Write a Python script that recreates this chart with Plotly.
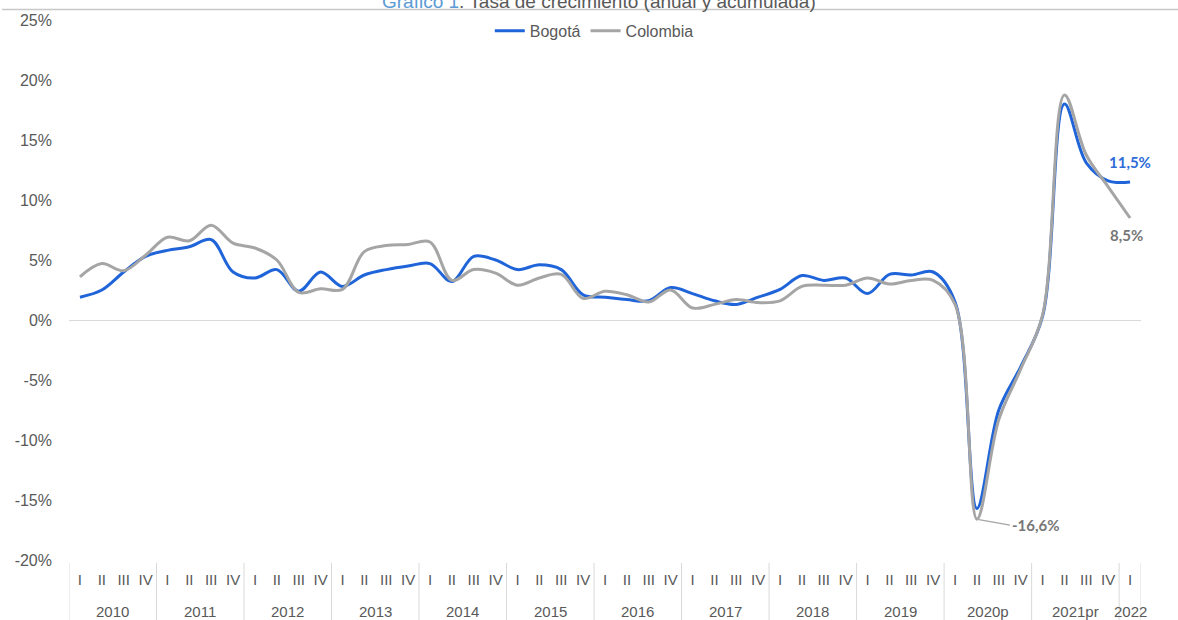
import plotly.graph_objects as go

years = ["2010"] * 4 + ["2011"] * 4 + ["2012"] * 4 + ["2013"] * 4 + ["2014"] * 4 + \
        ["2015"] * 4 + ["2016"] * 4 + ["2017"] * 4 + ["2018"] * 4 + ["2019"] * 4 + \
        ["2020p"] * 4 + ["2021pr"] * 4 + ["2022"]
quarters = ["I", "II", "III", "IV"] * 12 + ["I"]

bogota = [1.9, 2.5, 4.0, 5.3, 5.8, 6.1, 6.7, 4.0, 3.5, 4.2, 2.4, 4.0,
          2.8, 3.75, 4.2, 4.5, 4.7, 3.2, 5.3, 5.0, 4.2, 4.6, 4.2, 2.1,
          1.9, 1.7, 1.6, 2.7, 2.2, 1.6, 1.3, 1.9, 2.55, 3.7, 3.3, 3.5,
          2.2, 3.8, 3.75, 4.0, 1.5, -15.7, -7.5, -3.9, 0.3, 18.0, 13.1, 11.6,
          11.5]
colombia = [3.6, 4.7, 4.1, 5.4, 6.9, 6.6, 7.9, 6.4, 6.0, 5.0, 2.3, 2.6,
            2.55, 5.7, 6.2, 6.3, 6.5, 3.3, 4.2, 3.9, 2.9, 3.5, 3.8, 1.8,
            2.4, 2.1, 1.5, 2.5, 1.0, 1.3, 1.7, 1.45, 1.6, 2.8, 2.9, 2.9,
            3.5, 3.0, 3.3, 3.3, 1.3, -16.6, -8.3, -4.1, 0.4, 18.75, 13.75, 11.1,
            8.5]

y_tickvals = [-20, -15, -10, -5, 0, 5, 10, 15, 20, 25]
y_ticktext = ["-20%", "-15%", "-10%", "-5%", "0%", "5%", "10%", "15%", "20%", "25%"]

title_main = "Gráfico 1"
title_rest = ". Tasa de crecimiento (anual y acumulada)"
lbl_bog_last = "11,5%"
lbl_col_last = "8,5%"
lbl_col_min = "-16,6%"

BLUE = "#1F64D8"
GRAY = "#A5A5A5"
TXT = "#595959"
DIV = "#D9D9D9"
FONT = "Liberation Sans, Arial, sans-serif"

n = len(bogota)
idx = list(range(n))

fig = go.Figure()
fig.add_trace(go.Scatter(x=idx, y=bogota, name="Bogotá", mode="lines",
                         line=dict(color=BLUE, width=3, shape="spline", smoothing=1)))
fig.add_trace(go.Scatter(x=idx, y=colombia, name="Colombia", mode="lines",
                         line=dict(color=GRAY, width=3, shape="spline", smoothing=1)))

i_min = colombia.index(min(colombia))

fig.update_layout(
    width=1178, height=620,
    margin=dict(l=69, r=37, t=20, b=60),
    paper_bgcolor="white", plot_bgcolor="white",
    font=dict(family=FONT, size=16, color=TXT),
    showlegend=True,
    legend=dict(orientation="h", x=0.49, xanchor="center", y=0.98, yanchor="middle",
                font=dict(size=16, color=TXT), bgcolor="rgba(0,0,0,0)",
                itemwidth=30, tracegroupgap=0),
    xaxis=dict(range=[-0.5, n - 0.5], tickvals=idx, ticktext=quarters,
               showgrid=False, showline=False, zeroline=False,
               ticks="", tickangle=0, automargin=False, ticklabelstandoff=9,
               tickfont=dict(size=15, color=TXT)),
    yaxis=dict(range=[-20, 25], tickvals=y_tickvals, ticktext=y_ticktext,
               showgrid=False, showline=False, zeroline=True, automargin=False,
               zerolinecolor=DIV, zerolinewidth=1,
               tickfont=dict(size=16, color=TXT), ticklabelstandoff=16),
)

# year group labels and dividers below the axis
groups = []
for i, yv in enumerate(years):
    if not groups or groups[-1][0] != yv:
        groups.append([yv, i, i])
    else:
        groups[-1][2] = i
div_y1 = -60 / 540
for name, a, b in groups:
    fig.add_annotation(x=(a + b) / 2, y=-51 / 540, xref="x", yref="paper",
                       text=name, showarrow=False, xanchor="center", yanchor="middle",
                       font=dict(family=FONT, size=15, color=TXT))
    fig.add_shape(type="line", xref="x", yref="paper", x0=a - 0.5, x1=a - 0.5,
                  y0=-3 / 540, y1=div_y1, line=dict(color=DIV, width=1))
fig.add_shape(type="line", xref="x", yref="paper", x0=n - 0.5, x1=n - 0.5,
              y0=-3 / 540, y1=div_y1, line=dict(color=DIV, width=1))

# top frame line
fig.add_shape(type="line", xref="paper", yref="paper",
              x0=-67 / 1072, x1=1109 / 1072, y0=1 + 10.5 / 540, y1=1 + 10.5 / 540,
              line=dict(color="#C8C8C8", width=1.5))

# title (partially cropped at the top edge, as in the reference)
fig.add_annotation(xref="paper", yref="paper", x=0.494, y=1 + 18 / 540,
                   xanchor="center", yanchor="middle", showarrow=False,
                   text=f"<span style='color:#5B9BD5'>{title_main}</span>{title_rest}",
                   font=dict(family=FONT, size=19, color=TXT))

# data labels
fig.add_annotation(x=n - 1, y=bogota[-1], xref="x", yref="y", text=f"<b>{lbl_bog_last}</b>",
                   showarrow=False, yshift=20, xanchor="center", yanchor="middle",
                   font=dict(family="Lato, Open Sans, sans-serif", size=15, color="#2E6CD8"))
fig.add_annotation(x=n - 1, y=colombia[-1], xref="x", yref="y", text=f"<b>{lbl_col_last}</b>",
                   showarrow=False, yshift=-17, xshift=-4, xanchor="center", yanchor="middle",
                   font=dict(family="Lato, Open Sans, sans-serif", size=15, color="#767676"))
fig.add_annotation(x=i_min, y=colombia[i_min], xref="x", yref="y", text=f"<b>{lbl_col_min}</b>",
                   showarrow=True, arrowhead=0, arrowwidth=1.2, arrowcolor="#A5A5A5",
                   ax=33, ay=6, xanchor="left", yanchor="middle", standoff=2,
                   font=dict(family="Lato, Open Sans, sans-serif", size=15, color="#767676"))

fig.write_html("out.html", config={"displayModeBar": False},
               post_script="document.body.style.margin='0';")
